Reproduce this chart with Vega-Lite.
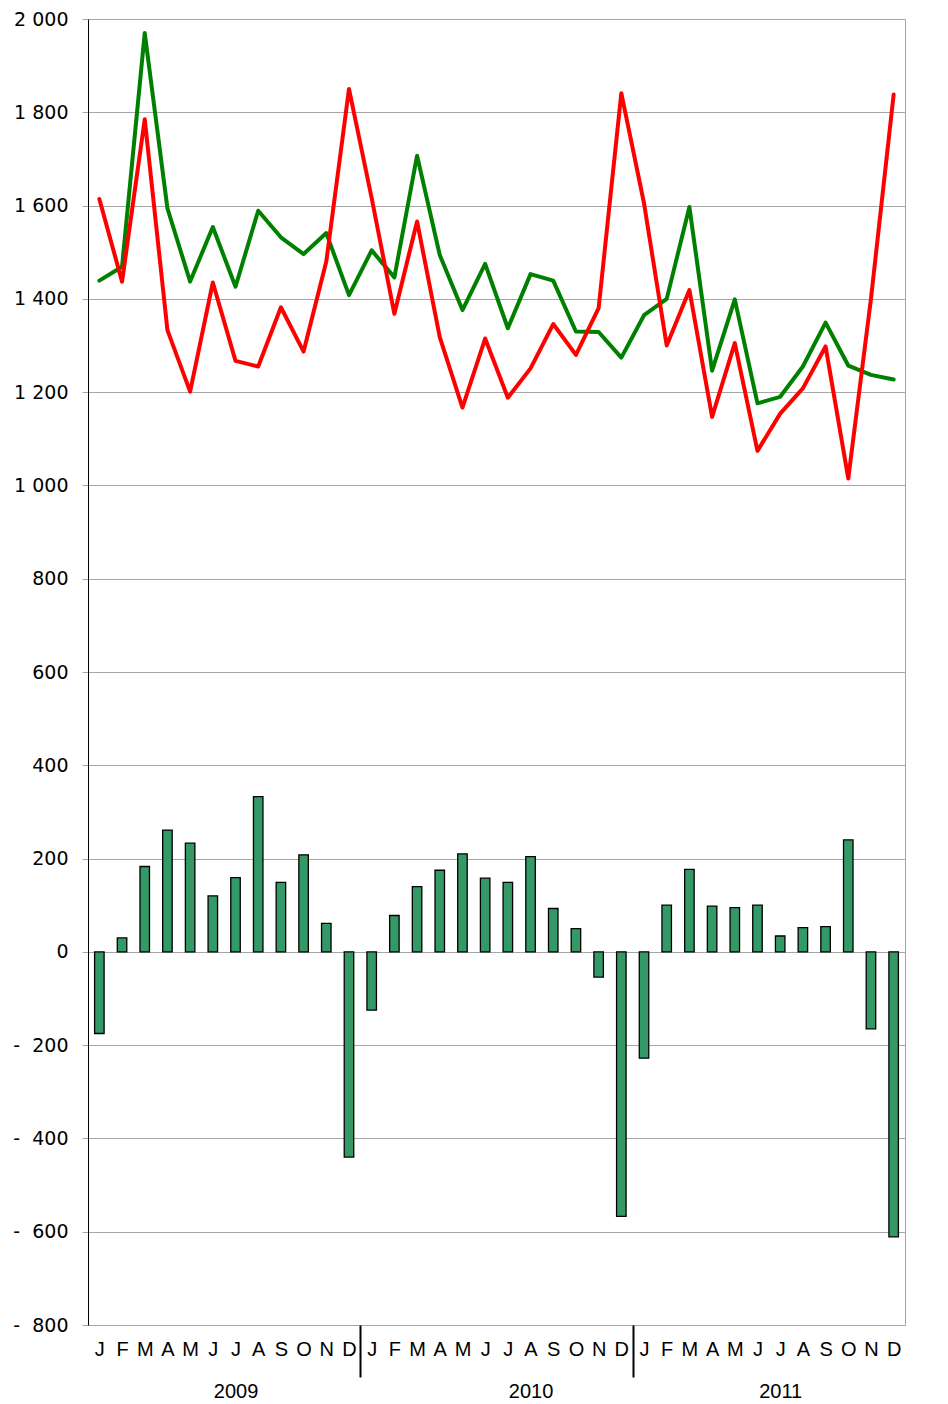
{
  "$schema": "https://vega.github.io/schema/vega-lite/v6.json",
  "width": 817,
  "height": 1306,
  "autosize": {"type": "none"},
  "padding": {"left": 88, "top": 19, "right": 43, "bottom": 79},
  "background": "#ffffff",
  "config": {"view": {"stroke": "#a6a6a6", "strokeWidth": 1}},
  "data": {"values": [
    {"i": 0, "g": 1439, "r": 1614, "d": -175},
    {"i": 1, "g": 1469, "r": 1437, "d": 30},
    {"i": 2, "g": 1970, "r": 1785, "d": 183},
    {"i": 3, "g": 1594, "r": 1333, "d": 261},
    {"i": 4, "g": 1437, "r": 1201, "d": 233},
    {"i": 5, "g": 1554, "r": 1435, "d": 120},
    {"i": 6, "g": 1426, "r": 1267, "d": 159},
    {"i": 7, "g": 1589, "r": 1255, "d": 333},
    {"i": 8, "g": 1532, "r": 1382, "d": 149},
    {"i": 9, "g": 1496, "r": 1287, "d": 208},
    {"i": 10, "g": 1541, "r": 1480, "d": 61},
    {"i": 11, "g": 1408, "r": 1850, "d": -440},
    {"i": 12, "g": 1504, "r": 1616, "d": -125},
    {"i": 13, "g": 1446, "r": 1368, "d": 78},
    {"i": 14, "g": 1707, "r": 1566, "d": 140},
    {"i": 15, "g": 1494, "r": 1318, "d": 175},
    {"i": 16, "g": 1376, "r": 1167, "d": 210},
    {"i": 17, "g": 1475, "r": 1315, "d": 158},
    {"i": 18, "g": 1337, "r": 1188, "d": 149},
    {"i": 19, "g": 1453, "r": 1251, "d": 204},
    {"i": 20, "g": 1439, "r": 1346, "d": 93},
    {"i": 21, "g": 1330, "r": 1280, "d": 50},
    {"i": 22, "g": 1329, "r": 1380, "d": -54},
    {"i": 23, "g": 1274, "r": 1841, "d": -567},
    {"i": 24, "g": 1365, "r": 1605, "d": -228},
    {"i": 25, "g": 1400, "r": 1300, "d": 100},
    {"i": 26, "g": 1597, "r": 1419, "d": 177},
    {"i": 27, "g": 1246, "r": 1147, "d": 98},
    {"i": 28, "g": 1399, "r": 1305, "d": 95},
    {"i": 29, "g": 1176, "r": 1074, "d": 100},
    {"i": 30, "g": 1190, "r": 1154, "d": 34},
    {"i": 31, "g": 1255, "r": 1208, "d": 52},
    {"i": 32, "g": 1349, "r": 1298, "d": 54},
    {"i": 33, "g": 1257, "r": 1015, "d": 240},
    {"i": 34, "g": 1237, "r": 1400, "d": -165},
    {"i": 35, "g": 1227, "r": 1838, "d": -611}
  ]},
  "encoding": {
    "x": {
      "field": "i",
      "type": "quantitative",
      "title": null,
      "scale": {"domain": [-0.5, 35.5], "nice": false, "zero": false, "padding": 0},
      "axis": {
        "values": [0,1,2,3,4,5,6,7,8,9,10,11,12,13,14,15,16,17,18,19,20,21,22,23,24,25,26,27,28,29,30,31,32,33,34,35,11.5,23.5],
        "labelExpr": "datum.value % 1 !== 0 ? '' : (datum.value == 6 ? ['J', '2009'] : (datum.value == 19 ? ['A', '2010'] : (datum.value == 30 ? ['J', '2011'] : ['J','F','M','A','M','J','J','A','S','O','N','D'][datum.value % 12])))",
        "domain": false,
        "grid": false,
        "ticks": true,
        "tickSize": 52,
        "tickWidth": 2,
        "tickColor": "#000000",
        "tickOpacity": {"condition": {"test": "datum.value % 1 !== 0", "value": 1}, "value": 0},
        "labelPadding": -38,
        "labelBaseline": "top",
        "labelLineHeight": 42,
        "labelFont": "Liberation Sans",
        "labelFontSize": 20,
        "labelColor": "#000000",
        "labelOverlap": false,
        "labelBound": false,
        "labelFlush": false
      }
    }
  },
  "layer": [
    {
      "mark": {"type": "bar", "width": 9.5, "fill": "#339966", "stroke": "#000000", "strokeWidth": 1.3},
      "encoding": {
        "y": {
          "field": "d",
          "type": "quantitative",
          "title": null,
          "scale": {"domain": [-800, 2000], "nice": false, "zero": false},
          "axis": {
            "values": [-800,-600,-400,-200,0,200,400,600,800,1000,1200,1400,1600,1800,2000],
            "labelExpr": "datum.value < 0 ? '-\u00a0\u00a0' + replace(format(-datum.value, ','), ',', '\u00a0') : replace(format(datum.value, ','), ',', '\u00a0')",
            "domain": true,
            "domainColor": "#000000",
            "domainWidth": 1,
            "grid": true,
            "gridColor": "#a6a6a6",
            "gridWidth": 1,
            "ticks": true,
            "tickSize": 6,
            "tickColor": "#a6a6a6",
            "labelPadding": 14,
            "labelFont": "DejaVu Sans",
            "labelFontSize": 19,
            "labelColor": "#000000",
            "labelOverlap": false,
            "labelBound": false,
            "labelFlush": false
          }
        }
      }
    },
    {
      "mark": {"type": "line", "color": "#008000", "strokeWidth": 4, "strokeJoin": "round", "strokeCap": "round"},
      "encoding": {"y": {"field": "g", "type": "quantitative", "title": null}}
    },
    {
      "mark": {"type": "line", "color": "#ff0000", "strokeWidth": 4, "strokeJoin": "round", "strokeCap": "round"},
      "encoding": {"y": {"field": "r", "type": "quantitative", "title": null}}
    }
  ]
}
